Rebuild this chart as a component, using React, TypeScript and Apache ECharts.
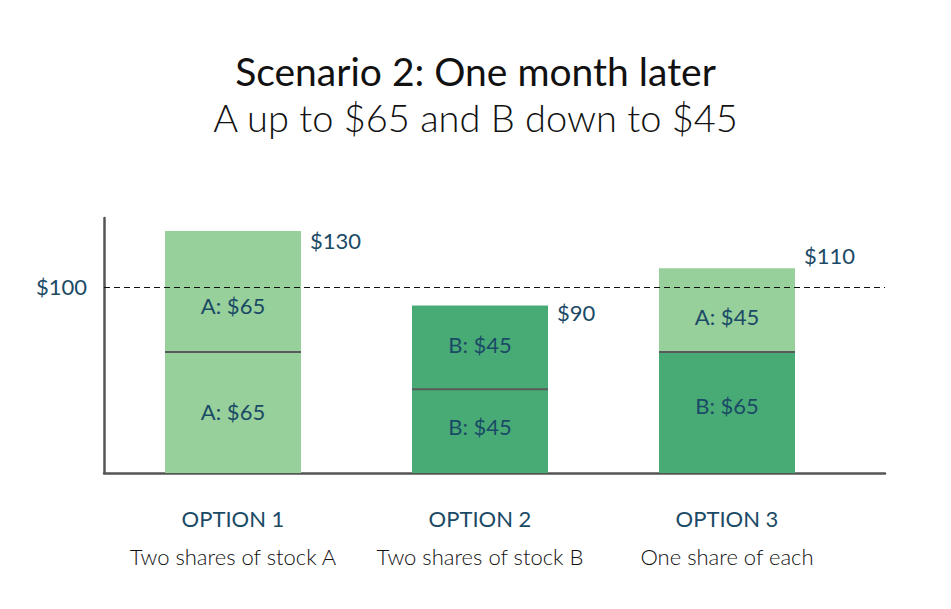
import React, { useEffect, useRef } from "react";
import * as echarts from "echarts";

const optionNames = ["OPTION 1", "OPTION 2", "OPTION 3"];
const optionDescriptions = ["Two shares of stock A", "Two shares of stock B", "One share of each"];
const bottomStock = ["A", "B", "B"];
const bottomValues = [65, 45, 65];
const topStock = ["A", "B", "A"];
const topValues = [65, 45, 45];
const referenceValue = 100;
const yMax = 137;

const titleText = "Scenario 2: One month later";
const subtitleText = "A up to $65 and B down to $45";

const LIGHT = "#97d09a";
const DARK = "#48ab75";
const NAVY = "#1b4a66";
const FONT = "Lato, 'Open Sans', sans-serif";
const stockColor: Record<string, string> = { A: LIGHT, B: DARK };

// per-item label nudges (px) to avoid the reference line, as in the original
const topLabelShift = [14, -3, 6];
const bottomLabelShift = [-1, -5, -7];
const totalLabelShift = [9, 7, -13];

export default function App() {
  const ref = useRef<HTMLDivElement>(null);

  useEffect(() => {
    document.body.style.margin = "0";
    if (!ref.current) return;
    const chart = echarts.init(ref.current, null, { renderer: "svg" });
    const totals = bottomValues.map((v, i) => v + topValues[i]);
    const cats = optionNames.map((n, i) => `${n}\n${optionDescriptions[i]}`);

    const segLabel = (fontShift: number) => ({
      show: true,
      position: "inside",
      offset: [0, fontShift],
      color: NAVY,
      fontSize: 22,
      fontFamily: FONT,
    });

    const option: any = {
      animation: false,
      backgroundColor: "#ffffff",
      title: {
        text: titleText,
        subtext: subtitleText,
        left: "center",
        top: 42,
        itemGap: -2,
        textStyle: { fontFamily: FONT, fontSize: 39, fontWeight: 400, color: "#111111", lineHeight: 48 },
        subtextStyle: { fontFamily: FONT, fontSize: 38, fontWeight: 300, color: "#111111", lineHeight: 48 },
      },
      grid: [
        { left: 109.5, right: 100.5, top: 218, bottom: 136 },
        { left: 104, right: 66, top: 218, bottom: 136 },
      ],
      xAxis: [
        {
          type: "category",
          gridIndex: 0,
          data: cats,
          axisLine: { show: false },
          axisTick: { show: false },
          axisLabel: {
            margin: 26,
            formatter: (v: string) => {
              const [a, b] = v.split("\n");
              return `{a|${a}}\n{b|${b}}`;
            },
            rich: {
              a: { fontFamily: FONT, fontSize: 22, color: NAVY, lineHeight: 38, fontWeight: 400 },
              b: { fontFamily: FONT, fontSize: 22, color: "#111111", lineHeight: 38, fontWeight: 300 },
            },
          },
        },
        {
          type: "value",
          gridIndex: 1,
          min: 0,
          max: 1,
          axisLine: { show: true, lineStyle: { color: "#555555", width: 2.5 } },
          axisTick: { show: false },
          axisLabel: { show: false },
          splitLine: { show: false },
        },
      ],
      yAxis: [
        {
          type: "value",
          gridIndex: 0,
          min: 0,
          max: yMax,
          show: false,
        },
        {
          type: "value",
          gridIndex: 1,
          min: 0,
          max: yMax,
          interval: 100,
          axisLine: { show: true, lineStyle: { color: "#555555", width: 2.5 } },
          axisTick: { show: false },
          splitLine: { show: false },
          axisLabel: {
            margin: 17,
            color: NAVY,
            fontSize: 22,
            fontFamily: FONT,
            formatter: (v: number) => (v === referenceValue ? `$${v}` : ""),
          },
        },
      ],
      series: [
        {
          type: "bar",
          name: "bottom",
          xAxisIndex: 0,
          yAxisIndex: 0,
          stack: "total",
          barWidth: 136,
          data: bottomValues.map((v, i) => ({
            value: v,
            itemStyle: { color: stockColor[bottomStock[i]] },
            label: { ...segLabel(bottomLabelShift[i]), formatter: `${bottomStock[i]}: $${v}` },
          })),
        },
        {
          type: "bar",
          name: "top",
          xAxisIndex: 0,
          yAxisIndex: 0,
          stack: "total",
          barWidth: 136,
          data: topValues.map((v, i) => ({
            value: v,
            itemStyle: { color: stockColor[topStock[i]] },
            label: { ...segLabel(topLabelShift[i]), formatter: `${topStock[i]}: $${v}` },
          })),
        },
        {
          type: "scatter",
          name: "divider",
          xAxisIndex: 0,
          yAxisIndex: 0,
          symbol: "rect",
          symbolSize: [136, 2],
          itemStyle: { color: "#5a5a5a", opacity: 1 },
          silent: true,
          z: 5,
          data: bottomValues.map((v, i) => [i, v]),
        },
        {
          type: "scatter",
          name: "totals",
          xAxisIndex: 0,
          yAxisIndex: 0,
          symbolSize: 0,
          silent: true,
          itemStyle: { opacity: 1 },
          data: totals.map((t, i) => ({
            value: [i, t],
            label: {
              show: true,
              position: [77, totalLabelShift[i]],
              align: "left",
              verticalAlign: "middle",
              formatter: `$${t}`,
              color: NAVY,
              fontSize: 22,
              fontFamily: FONT,
            },
          })),
        },
        {
          type: "line",
          name: "reference",
          xAxisIndex: 1,
          yAxisIndex: 1,
          data: [],
          markLine: {
            silent: true,
            symbol: ["none", "none"],
            label: { show: false },
            lineStyle: { color: "#111111", type: [6, 4], width: 1 },
            data: [{ yAxis: referenceValue }],
          },
        },
      ],
    };
    chart.setOption(option);
    return () => chart.dispose();
  }, []);

  return <div ref={ref} style={{ width: 951, height: 609 }} />;
}
